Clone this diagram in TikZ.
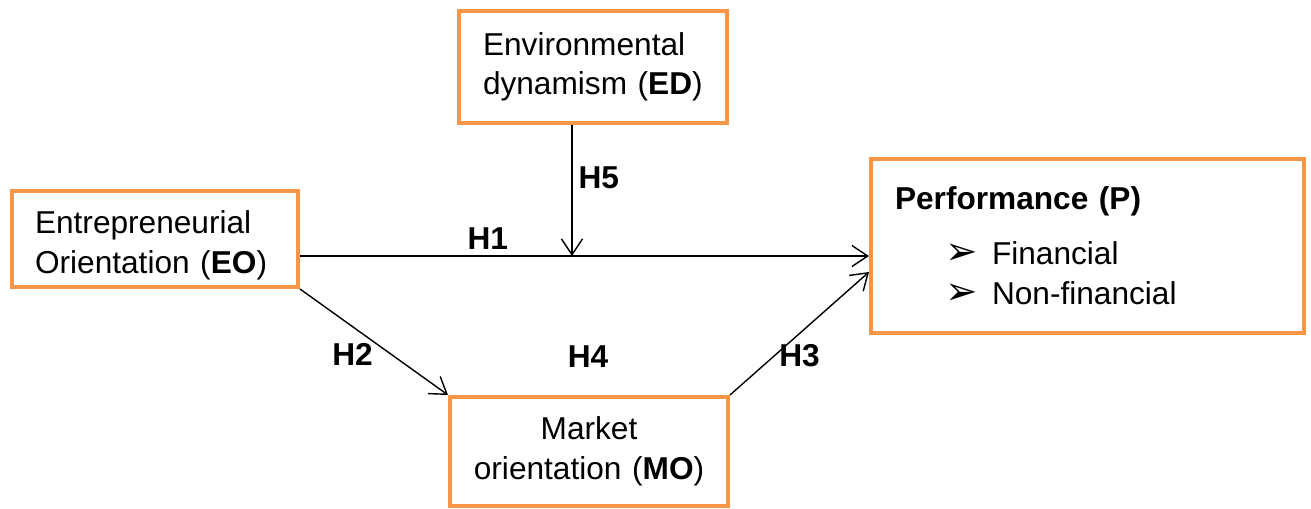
\documentclass[tikz,border=0pt]{standalone}
\usepackage{fontspec}
\setmainfont{Liberation Sans}
\newfontfamily\bulletfont{DejaVu Sans}
\usepackage{xcolor}
\usepackage{tikz}
\usetikzlibrary{arrows.meta, positioning, calc}
\definecolor{boxorange}{HTML}{F79646}
\tikzstyle{construct} = [rectangle, draw=boxorange, line width=2.3pt, inner ysep=0pt, align=left, font=\fontsize{18}{22.5}\selectfont]
\tikzstyle{arrow} = [line width=0.8pt, ->, >={Straight Barb[length=9pt, width=12pt]}]
\tikzstyle{hyp} = [font=\fontsize{18}{22.5}\selectfont\bfseries]
\newcommand{\perfitem}[1]{\hspace*{1.0cm}\makebox[0.94cm][l]{\bulletfont\fontsize{22}{22}\selectfont ➢}#1}

\begin{document}
\begin{tikzpicture}
    \useasboundingbox (0,0) rectangle (26.22,-10.16);
    % Constructs
    \node[construct, text width=4.40cm, inner xsep=0.48cm, minimum height=2.24cm] (ed) at (11.86,-1.34) {Environmental\\dynamism (\textbf{ED})};
    \node[construct, text width=4.80cm, inner xsep=0.46cm, minimum height=1.92cm] (eo) at (3.10,-4.78) {\rule{0pt}{20pt}Entrepreneurial\\Orientation (\textbf{EO})};
    \node[construct, text width=7.70cm, inner xsep=0.48cm, minimum height=3.48cm, font=\fontsize{18}{22.8}\selectfont] (perf) at (21.75,-4.92) {\textbf{Performance (P)}\\[0.3cm]
        \perfitem{Financial}\\
        \perfitem{Non-financial}};
    \node[construct, text width=5.0cm, inner xsep=0.28cm, minimum height=2.18cm, align=center] (mo) at (11.78,-9.03) {Market\\orientation (\textbf{MO})};

    % Hypotheses
    \draw[arrow] ([yshift=-0.34cm]eo.east) -- node[hyp, pos=0.33, above] {H1} coordinate[pos=0.478] (h1mid) ([yshift=-0.2cm]perf.west);
    \draw[arrow] (ed.south -| h1mid) -- node[hyp, pos=0.4, right] {H5} (h1mid);
    \draw[arrow] (eo.south east) -- node[hyp, pos=0.62, left, xshift=-0.25cm] {H2} (mo.north west);
    \draw[arrow] (mo.north east) -- node[hyp, pos=0.5, below, yshift=-0.08cm] {H3} ([yshift=-0.52cm]perf.west);
    \node[hyp] (h4) at (11.76,-7.14) {H4};

\end{tikzpicture}
\end{document}
